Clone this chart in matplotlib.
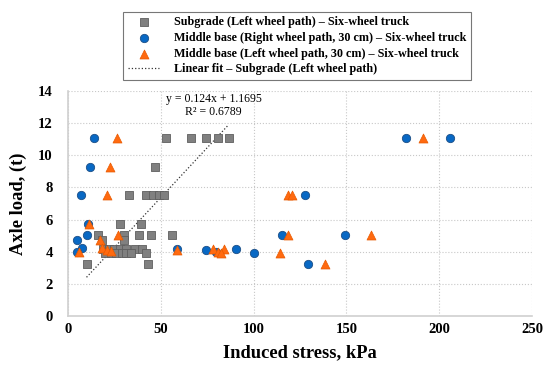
import matplotlib
matplotlib.use("Agg")
import matplotlib.pyplot as plt
import numpy as np

# Subgrade (Left wheel path) - Six-wheel truck
sub_x = [53, 66.5, 74.5, 81, 86.5,
         47,
         33, 42, 46, 49, 52,
         28, 39.5,
         16, 30, 38, 45, 56,
         18.5, 30,
         19, 22, 25, 28, 31, 36, 40,
         20, 23, 26, 29, 31.5, 34, 42,
         10, 43]
sub_y = [11.1, 11.1, 11.1, 11.1, 11.1,
         9.3,
         7.5, 7.5, 7.5, 7.5, 7.5,
         5.75, 5.75,
         5.05, 5.05, 5.05, 5.05, 5.05,
         4.7, 4.7,
         4.2, 4.2, 4.2, 4.2, 4.2, 4.2, 4.2,
         3.95, 3.95, 3.95, 3.95, 3.95, 3.95, 3.95,
         3.25, 3.25]

# Middle base (Right wheel path, 30 cm)
right_x = [14, 12, 7, 11, 10.5, 5, 7.5, 5, 59, 74.5, 80, 90.5, 100,
           182, 206, 127.5, 115.5, 149.5, 129.5]
right_y = [11.1, 9.3, 7.5, 5.75, 5.05, 4.7, 4.25, 3.98, 4.2, 4.1, 4.0, 4.2, 3.95,
           11.1, 11.1, 7.5, 5.05, 5.05, 3.25]

# Middle base (Left wheel path, 30 cm)
left_x = [26.3, 22.7, 21.1, 11.2, 27, 17.5, 18.2, 21, 23, 6,
          59, 78, 81, 84, 82.5,
          191.5, 118.3, 120.8, 118.3, 163.5, 114.5, 138.5]
left_y = [11.1, 9.3, 7.5, 5.75, 5.05, 4.7, 4.25, 4.1, 4.05, 3.98,
          4.1, 4.2, 4.0, 4.2, 3.95,
          11.1, 7.5, 7.5, 5.05, 5.05, 3.95, 3.25]

slope, intercept = 0.124, 1.1695

plt.rcParams['font.family'] = ['Liberation Serif', 'DejaVu Serif']
plt.rcParams['font.weight'] = 'bold'

fig = plt.figure(figsize=(5.5, 3.73), dpi=100)
ax = fig.add_axes([0.1236, 0.1528, 0.8436, 0.6032])

ax.scatter(sub_x, sub_y, marker='s', s=32, color='#808080', edgecolors='#5f5f5f',
           linewidths=0.6, zorder=3, label='Subgrade (Left wheel path) – Six-wheel truck')
ax.scatter(right_x, right_y, marker='o', s=36, color='#0868c4', edgecolors='#1d4f86',
           linewidths=0.6, zorder=4, label='Middle base (Right wheel path, 30 cm) – Six-wheel truck')
ax.scatter(left_x, left_y, marker='^', s=42, color='#ff6a10', edgecolors='#e85a00',
           linewidths=0.5, zorder=5, label='Middle base (Left wheel path, 30 cm) – Six-wheel truck')

fx = np.array([min(sub_x), max(sub_x)])
ax.plot(fx, slope * fx + intercept, ':', color='#333333', lw=0.9, zorder=2,
        label='Linear fit – Subgrade (Left wheel path)')

ax.text(78.5, 13.5, 'y = 0.124x + 1.1695', ha='center', va='center', fontsize=8.5,
        fontweight='normal')
ax.text(78.5, 12.7, 'R² = 0.6789', ha='center', va='center', fontsize=8.5,
        fontweight='normal')

ax.set_xlim(0, 250)
ax.set_ylim(0, 14)
ax.set_xticks(range(0, 251, 50))
ax.set_yticks(range(0, 15, 2))
ax.grid(True, linestyle=':', color='#c8c8c8', lw=0.8)
ax.set_axisbelow(True)
for s in ['top', 'right']:
    ax.spines[s].set_visible(False)
for s in ['left', 'bottom']:
    ax.spines[s].set_color('#d0d0d0')
    ax.spines[s].set_linewidth(1.2)
ax.tick_params(axis='x', length=0, labelsize=10.5, pad=5)
ax.tick_params(axis='y', length=0, labelsize=10.5, pad=11)
for lab in ax.get_xticklabels() + ax.get_yticklabels():
    lab.set_fontweight('bold')

ax.set_xlabel('Induced stress, kPa', fontsize=13.3, fontweight='bold', labelpad=6)
ax.set_ylabel('Axle load, (t)', fontsize=13.3, fontweight='bold', labelpad=8)

leg = fig.legend(loc='upper left', bbox_to_anchor=(0.213, 0.985),
                 frameon=True, fancybox=False, edgecolor='#555555',
                 handlelength=2.6, borderpad=0.4, labelspacing=0.3,
                 handletextpad=1.2, prop={'weight': 'bold', 'size': 8.7})
leg.get_frame().set_linewidth(0.8)

fig.savefig('out.png', dpi=100)
